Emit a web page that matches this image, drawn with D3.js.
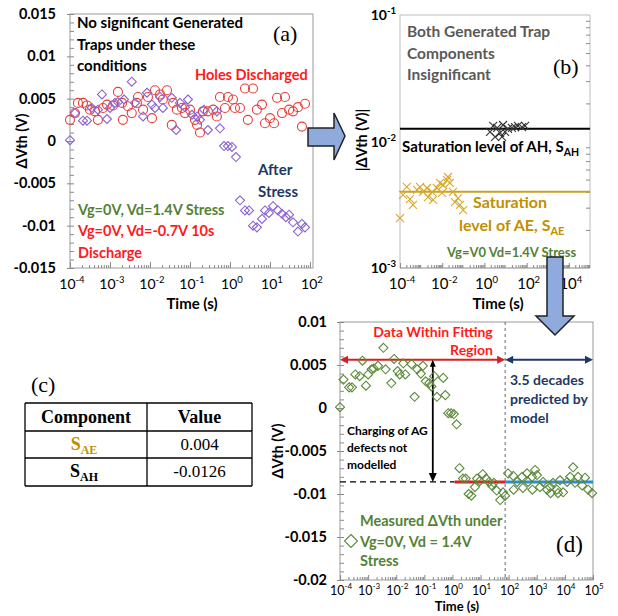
<!DOCTYPE html>
<html>
<head>
<meta charset="utf-8">
<script src="https://cdn.jsdelivr.net/npm/d3@7"></script>
<style>
  body { margin: 0; background: #fff; }
</style>
</head>
<body>
<svg id="fig" width="618" height="616"></svg>
<script>
// ---------- data ----------
// (a) holes discharged: time (s) and dVth (V)
const holesT = [1e-4,1.33e-4,1.58e-4,2.11e-4,2.66e-4,3.16e-4,4.22e-4,5.0e-4,6.7e-4,8.4e-4,1.19e-3,1.58e-3,2.0e-3,2.1e-3,2.8e-3,3.5e-3,4.7e-3,5.0e-3,6.7e-3,8.9e-3,1.12e-2,1.33e-2,1.78e-2,2.1e-2,2.66e-2,3.8e-2,3.5e-2,4.7e-2,6.3e-2,7.5e-2,0.1,0.133,0.15,0.178,0.21,0.28,0.38,0.47,0.56,0.75,0.89,1.19,1.33,1.78,2.37,2.8,3.76,4.7,6.3,7.5,10,12.6,15,20,23.7,30,37.6,50,63,75];
const holesV = [0.0025,0.0033,0.0045,0.0045,0.0042,0.0037,0.0035,0.0025,0.0039,0.0043,0.0042,0.0058,0.0045,0.0025,0.0041,0.0033,0.0045,0.0052,0.0037,0.0052,0.0027,0.006,0.0055,0.0049,0.006,0.0045,0.0019,0.0037,0.0039,0.0033,0.0037,0.0025,0.0019,0.001,0.0035,0.0035,0.0037,0.0029,0.0052,0.0039,0.0052,0.0049,0.0039,0.0039,0.0062,0.0025,0.0062,0.0037,0.0043,0.0021,0.0027,0.0021,0.0051,0.0033,0.0052,0.0037,0.0035,0.004,0.0017,0.0044];

// (a)/(d) after stress (Vg=0V, Vd=1.4V)
const stressT = [1e-4,1.33e-4,2.11e-4,2.66e-4,3.5e-4,5.0e-4,6.3e-4,8.4e-4,1e-3,1.33e-3,1.58e-3,2.24e-3,3.5e-3,4.2e-3,6.7e-3,8.4e-3,1.12e-2,1.33e-2,1.78e-2,2.1e-2,3.5e-2,4.5e-2,5.6e-2,7.5e-2,8.9e-2,0.112,0.15,0.178,0.224,0.28,0.47,0.56,0.71,0.89,1.12,1.41,1.78,2.37,2.99,3.76,4.7,6.3,7.5,9.4,11.9,15.8,20,25,30,37.6,50,63,75];
const stressV = [0.0001,0.0033,0.0024,0.0024,0.0039,0.0037,0.0055,0.0026,0.0039,0.0045,0.0046,0.0049,0.007,0.0045,0.0029,0.0057,0.0043,0.0039,0.0052,0.0039,0.0051,0.0013,0.0045,0.004,0.0049,0.0031,0.0029,0.0025,0.0037,0.0013,0.0035,0.0015,-0.0006,-0.0006,-0.0007,-0.0019,-0.007,-0.0082,-0.0082,-0.01,-0.0102,-0.0092,-0.0082,-0.0085,-0.0077,-0.0082,-0.0086,-0.009,-0.0087,-0.0096,-0.0107,-0.0098,-0.0102];

// (d) stress data beyond the fitting window
const stressLongT = [95,145,200,300,450,490,680,870,1020,1300,1670,2330,2960,3780,5230,6700,8650,12000,15400,19600,23000,29500,41000,52000,67000,93000,150,320,700,3100,5700];
const stressLongV = [-0.0076,-0.0079,-0.0086,-0.008,-0.0076,-0.0086,-0.008,-0.0072,-0.0078,-0.0092,-0.0086,-0.0095,-0.0092,-0.0087,-0.0095,-0.0084,-0.0098,-0.0086,-0.008,-0.0069,-0.0087,-0.008,-0.009,-0.0081,-0.0095,-0.0099,-0.0095,-0.0093,-0.0095,-0.0099,-0.0099];

// (b) |dVth| of the AE and AH components
const aeT = [1e-4,1.39e-4,2.1e-4,2.97e-4,4.1e-4,6.4e-4,8.9e-4,1.24e-3,1.9e-3,2.13e-3,3.3e-3,3.7e-3,5.6e-3,7.9e-3,9.8e-3,1.1e-2,1.7e-2,1.87e-2,2.3e-2,3.2e-2,4.0e-2,5.6e-2,6.9e-2,9.8e-2];
const aeV = [0.00248,0.00378,0.00437,0.00351,0.00315,0.00414,0.00437,0.00399,0.00429,0.00364,0.00399,0.00345,0.00429,0.0047,0.00392,0.00453,0.00496,0.00524,0.0047,0.00399,0.00332,0.00357,0.00315,0.00287];
const ahT = [1.84,2.6,3.2,4.0,5.5,6.8,7.6,9.5,13,20,28,39,60,84];
const ahV = [0.0119,0.0133,0.0109,0.0128,0.0117,0.0109,0.0135,0.0119,0.0126,0.0128,0.013,0.0133,0.013,0.0133];

// (c) saturation levels
const componentNames = ["AE", "AH"];
const componentValues = [0.004, -0.0126];
const componentColors = ["#bf9000", "#000000"];

// fitting window
const fitEnd = 75;          // last measured time (s)
const fitStartLine = 1.2;   // where the fitted saturation starts (s)
const fitArrowLevel = 0.0056;
const chargeArrowTime = 0.2;

// tick labels
const yTicksA = [0.015, 0.01, 0.005, 0, -0.005, -0.01, -0.015];
const yTickLabelsA = ["0.015", "0.01", "0.005", "0", "-0.005", "-0.01", "-0.015"];
const xTicksA = [1e-4, 1e-3, 1e-2, 1e-1, 1, 10, 100];
const yTicksB = [1e-3, 1e-2, 1e-1];
const xTicksB = [1e-4, 1e-2, 1, 1e2, 1e4];
const yTicksD = [0.01, 0.005, 0, -0.005, -0.01, -0.015, -0.02];
const yTickLabelsD = ["0.01", "0.005", "0", "-0.005", "-0.01", "-0.015", "-0.02"];
const xTicksD = [1e-4, 1e-3, 1e-2, 1e-1, 1, 10, 100, 1e3, 1e4, 1e5];

// ---------- helpers ----------
const SANS = "Lato, 'Open Sans', 'DejaVu Sans', sans-serif";
const SERIF = "'Liberation Serif', 'DejaVu Serif', serif";
const svg = d3.select("#fig");

function label(g, x, y, str, opt = {}) {
  return g.append("text")
    .attr("x", x).attr("y", y)
    .attr("font-family", opt.family || SANS)
    .attr("font-size", opt.size || 14)
    .attr("font-weight", opt.weight || "bold")
    .attr("fill", opt.fill || "#000")
    .attr("text-anchor", opt.anchor || "start")
    .text(str);
}
function sub(textSel, str, size, dy = 4) {
  textSel.append("tspan").attr("dy", dy).attr("font-size", size).text(str);
  return textSel;
}
function powLabel(g, x, y, v, opt = {}) {
  const e = Math.round(Math.log10(v));
  const t = label(g, x, y, "10", { size: opt.size || 14, weight: opt.weight || "normal",
    anchor: opt.anchor || "middle", fill: "#000" });
  t.append("tspan").attr("dy", -6).attr("font-size", opt.sup || 9.5).text(e);
  return t;
}
function minorLog(scale) {
  const [a, b] = scale.domain();
  const out = [];
  for (let e = Math.floor(Math.log10(a)); e <= Math.ceil(Math.log10(b)); e++)
    for (let k = 2; k <= 9; k++) { const v = k * 10 ** e; if (v > a && v < b) out.push(v); }
  return out;
}
function styleAxis(sel, color) {
  sel.select(".domain").remove();
  sel.selectAll("line").attr("stroke", color);
  return sel;
}
const diamond = r => `M0,${-r}L${r},0L0,${r}L${-r},0Z`;
const cross = r => `M${-r},${-r}L${r},${r}M${-r},${r}L${r},${-r}`;

// ---------- panel (a) ----------
const gA = svg.append("g");
const xA = d3.scaleLog().domain([1e-4, 10 ** 2.075]).range([70, 313]);
const yA = d3.scaleLinear().domain([-0.015, 0.015]).range([268, 14]);

gA.append("rect").attr("x", 70).attr("y", 14).attr("width", 243).attr("height", 254)
  .attr("fill", "none").attr("stroke", "#9a9a9a");
styleAxis(gA.append("g").attr("transform", "translate(70,0)")
  .call(d3.axisLeft(yA).tickValues(d3.range(-15, 16).map(k => k / 1000)).tickSize(-4).tickFormat("")), "#8a8a8a");
styleAxis(gA.append("g").attr("transform", "translate(70,0)")
  .call(d3.axisLeft(yA).tickValues(yTicksA).tickSize(3).tickPadding(11)
    .tickFormat((d, i) => yTickLabelsA[i])), "#8a8a8a")
  .selectAll("text").attr("font-family", SANS).attr("font-size", 14.5)
  .attr("font-weight", "bold").attr("fill", "#000");
styleAxis(gA.append("g").attr("transform", "translate(0,268)")
  .call(d3.axisBottom(xA).tickValues(minorLog(xA)).tickSize(-3).tickFormat("")), "#8a8a8a");
styleAxis(gA.append("g").attr("transform", "translate(0,268)")
  .call(d3.axisBottom(xA).tickValues(xTicksA).tickSize(-6).tickFormat("")), "#8a8a8a");
xTicksA.forEach(v => powLabel(gA, xA(v) + 2, 289, v));
label(gA, 192, 309, "Time (s)", { size: 15, anchor: "middle" });
label(gA, 0, 0, "ΔVth (V)", { size: 14.5, anchor: "middle" })
  .attr("transform", "translate(27,141) rotate(-90)");

gA.append("g").selectAll("circle").data(holesT).join("circle")
  .attr("cx", d => xA(d)).attr("cy", (d, i) => yA(holesV[i])).attr("r", 4.5)
  .attr("fill", "none").attr("stroke", "#e2403a").attr("stroke-width", 1.1);
gA.append("g").selectAll("path").data(stressT).join("path")
  .attr("transform", (d, i) => `translate(${xA(d)},${yA(stressV[i])})`)
  .attr("d", diamond(4.5)).attr("fill", "none").attr("stroke", "#8b62d1").attr("stroke-width", 1.1);

["No significant Generated", "Traps under these", "conditions"]
  .forEach((s, i) => label(gA, 77, 28 + i * 21.5, s, { size: 15 }));
label(gA, 273, 41, "(a)", { family: SERIF, size: 22, weight: "normal" });
label(gA, 195, 80, "Holes Discharged", { fill: "#ff1a1a", size: 14.5 });
label(gA, 258, 175, "After", { fill: "#1f3864", size: 15 });
label(gA, 258, 197, "Stress", { fill: "#1f3864", size: 15 });
label(gA, 78, 215, "Vg=0V, Vd=1.4V Stress", { fill: "#548235", size: 14.5 });
label(gA, 78, 236, "Vg=0V, Vd=-0.7V 10s", { fill: "#ff1a1a", size: 14.5 });
label(gA, 78, 258, "Discharge", { fill: "#ff1a1a", size: 14.5 });

// ---------- panel (b) ----------
const gB = svg.append("g");
const xB = d3.scaleLog().domain([1e-4, 1e5]).range([400, 590]);
const yB = d3.scaleLog().domain([1e-3, 1e-1]).range([268, 15]);

gB.append("path").attr("d", "M400,268V15H590V268").attr("fill", "none").attr("stroke", "#bdbdbd");
styleAxis(gB.append("g").attr("transform", "translate(590,0)")
  .call(d3.axisRight(yB).tickValues(minorLog(yB)).tickSize(-4).tickFormat("")), "#8a8a8a");
styleAxis(gB.append("g").attr("transform", "translate(0,268)")
  .call(d3.axisBottom(xB).tickValues(minorLog(xB)).tickSize(-3).tickFormat("")), "#8a8a8a");
styleAxis(gB.append("g").attr("transform", "translate(0,268)")
  .call(d3.axisBottom(xB).tickValues(xTicksB).tickSize(-5).tickFormat("")), "#8a8a8a");
gB.append("line").attr("x1", 400).attr("x2", 590).attr("y1", 268).attr("y2", 268).attr("stroke", "#8a8a8a");
yTicksB.forEach(v => powLabel(gB, 396, yB(v) + 5, v, { anchor: "end", weight: "bold" }));
xTicksB.forEach(v => powLabel(gB, xB(v) + 2, 289, v, { size: 15 }));
label(gB, 498, 309, "Time (s)", { size: 15, anchor: "middle" });
label(gB, 0, 0, "|ΔVth (V)|", { size: 14.5, anchor: "middle" })
  .attr("transform", "translate(367,140) rotate(-90)");

gB.append("line").attr("x1", 400).attr("x2", 590)
  .attr("y1", yB(Math.abs(componentValues[1]))).attr("y2", yB(Math.abs(componentValues[1])))
  .attr("stroke", "#000").attr("stroke-width", 2);
gB.append("line").attr("x1", 400).attr("x2", 590)
  .attr("y1", yB(componentValues[0])).attr("y2", yB(componentValues[0]))
  .attr("stroke", "#c9a227").attr("stroke-width", 2);
gB.append("g").selectAll("path").data(aeT).join("path")
  .attr("transform", (d, i) => `translate(${xB(d)},${yB(aeV[i])})`)
  .attr("d", cross(4)).attr("stroke", "#d9a829").attr("stroke-width", 1.1);
gB.append("g").selectAll("path").data(ahT).join("path")
  .attr("transform", (d, i) => `translate(${xB(d)},${yB(ahV[i])})`)
  .attr("d", cross(4)).attr("stroke", "#333").attr("stroke-width", 1.1);

["Both Generated Trap", "Components", "Insignificant"]
  .forEach((s, i) => label(gB, 407, 37 + i * 21.5, s, { fill: "#595959", size: 15.5 }));
label(gB, 553, 74, "(b)", { family: SERIF, size: 22, weight: "normal" });
sub(label(gB, 402, 152, "Saturation level of AH, S", { size: 15 }), "AH", 10.5);
label(gB, 473, 208, "Saturation", { fill: "#bf9000", size: 16 });
sub(label(gB, 459, 231, "level of AE, S", { fill: "#bf9000", size: 16 }), "AE", 11);
label(gB, 447, 257, "Vg=V0 Vd=1.4V Stress", { fill: "#548235", size: 13 });

// ---------- table (c) ----------
const gC = svg.append("g");
label(gC, 31, 392, "(c)", { family: SERIF, size: 22, weight: "normal" });
const tl = 25, tr = 252, tc = 147, rows = [403, 431, 458, 486];
rows.forEach(y => gC.append("line").attr("x1", tl).attr("x2", tr).attr("y1", y).attr("y2", y)
  .attr("stroke", "#000").attr("stroke-width", 1.3));
[tl, tc, tr].forEach(x => gC.append("line").attr("x1", x).attr("x2", x).attr("y1", rows[0]).attr("y2", rows[3])
  .attr("stroke", "#000").attr("stroke-width", 1.3));
label(gC, (tl + tc) / 2, 423, "Component", { family: SERIF, size: 18, anchor: "middle" });
label(gC, (tc + tr) / 2, 423, "Value", { family: SERIF, size: 18, anchor: "middle" });
componentNames.forEach((n, i) => {
  const y = rows[i + 1] + 19;
  sub(label(gC, (tl + tc) / 2 - 2, y, "S", { family: SERIF, size: 18, anchor: "middle", fill: componentColors[i] }),
    n, 12, 4);
  label(gC, (tc + tr) / 2, y, String(componentValues[i]), { family: SERIF, size: 17, weight: "normal", anchor: "middle" });
});

// ---------- panel (d) ----------
const gD = svg.append("g");
const xD = d3.scaleLog().domain([1e-4, 1e5]).range([340, 593]);
const yD = d3.scaleLinear().domain([-0.02, 0.01]).range([580, 322]);

gD.append("rect").attr("x", 340).attr("y", 322).attr("width", 253).attr("height", 258)
  .attr("fill", "none").attr("stroke", "#9a9a9a");
styleAxis(gD.append("g").attr("transform", "translate(340,0)")
  .call(d3.axisLeft(yD).tickValues(d3.range(-20, 11).map(k => k / 1000)).tickSize(-4).tickFormat("")), "#8a8a8a");
styleAxis(gD.append("g").attr("transform", "translate(340,0)")
  .call(d3.axisLeft(yD).tickValues(yTicksD).tickSize(3).tickPadding(10)
    .tickFormat((d, i) => yTickLabelsD[i])), "#8a8a8a")
  .selectAll("text").attr("font-family", SANS).attr("font-size", 14.5)
  .attr("font-weight", "bold").attr("fill", "#000");
styleAxis(gD.append("g").attr("transform", "translate(0,580)")
  .call(d3.axisBottom(xD).tickValues(minorLog(xD)).tickSize(-3).tickFormat("")), "#8a8a8a");
styleAxis(gD.append("g").attr("transform", "translate(0,580)")
  .call(d3.axisBottom(xD).tickValues(xTicksD).tickSize(-5).tickFormat("")), "#8a8a8a");
xTicksD.forEach(v => powLabel(gD, xD(v) + 1, 595, v, { size: 12.5, sup: 8 }));
label(gD, 457, 611, "Time (s)", { size: 13, anchor: "middle" });
label(gD, 0, 0, "ΔVth (V)", { size: 14.5, anchor: "middle" })
  .attr("transform", "translate(283,451) rotate(-90)");

// fitting window markers
gD.append("line").attr("x1", xD(fitEnd)).attr("x2", xD(fitEnd)).attr("y1", 322).attr("y2", 580)
  .attr("stroke", "#666").attr("stroke-dasharray", "3,3");
const sat = componentValues[0] + componentValues[1];
gD.append("line").attr("x1", xD(1e-4)).attr("x2", xD(fitStartLine)).attr("y1", yD(sat)).attr("y2", yD(sat))
  .attr("stroke", "#000").attr("stroke-width", 1.2).attr("stroke-dasharray", "6,4");
gD.append("line").attr("x1", xD(fitStartLine)).attr("x2", xD(fitEnd)).attr("y1", yD(sat)).attr("y2", yD(sat))
  .attr("stroke", "#e02020").attr("stroke-width", 3);
gD.append("line").attr("x1", xD(fitEnd)).attr("x2", xD(1e5)).attr("y1", yD(sat)).attr("y2", yD(sat))
  .attr("stroke", "#2e8bd6").attr("stroke-width", 3);

function hArrow(g, x1, x2, y, color) {
  g.append("line").attr("x1", x1 + 6).attr("x2", x2 - 6).attr("y1", y).attr("y2", y)
    .attr("stroke", color).attr("stroke-width", 2);
  g.append("path").attr("d", `M${x1},${y}l8,-4v8Z M${x2},${y}l-8,-4v8Z`).attr("fill", color);
}
hArrow(gD, xD(1e-4), xD(fitEnd), yD(fitArrowLevel), "#d42020");
hArrow(gD, xD(fitEnd), xD(1e5), yD(fitArrowLevel), "#1f3864");
const ax = xD(chargeArrowTime), ay1 = yD(fitArrowLevel), ay2 = yD(sat);
gD.append("line").attr("x1", ax).attr("x2", ax).attr("y1", ay1 + 3).attr("y2", ay2 - 7)
  .attr("stroke", "#000").attr("stroke-width", 1.8);
gD.append("path").attr("d", `M${ax},${ay1}l-3,7h6Z M${ax},${ay2}l-4,-9h8Z`).attr("fill", "#000");

gD.append("g").selectAll("path").data(stressT.concat(stressLongT)).join("path")
  .attr("transform", (d, i) => `translate(${xD(d)},${yD(stressV.concat(stressLongV)[i])})`)
  .attr("d", diamond(4.5)).attr("fill", "none").attr("stroke", "#5b8a3a").attr("stroke-width", 1.1);

label(gD, 433, 337, "Data Within Fitting", { fill: "#ff1a1a", size: 14, anchor: "middle" });
label(gD, 493, 355, "Region", { fill: "#ff1a1a", size: 14, anchor: "end" });
["3.5 decades", "predicted by", "model"].forEach((s, i) =>
  label(gD, 510, 385 + i * 19, s, { fill: "#1f3864", size: 14 }));
["Charging of AG", "defects not", "modelled"].forEach((s, i) =>
  label(gD, 347, 435 + i * 17, s, { size: 12 }));
label(gD, 360, 526, "Measured ΔVth under", { fill: "#548235", size: 14.5 });
label(gD, 360, 547, "Vg=0V, Vd = 1.4V", { fill: "#548235", size: 14.5 });
label(gD, 360, 566, "Stress", { fill: "#548235", size: 14.5 });
gD.append("path").attr("transform", "translate(351,541)").attr("d", diamond(6.5))
  .attr("fill", "none").attr("stroke", "#5b8a3a").attr("stroke-width", 1.1);
label(gD, 556, 552, "(d)", { family: SERIF, size: 23, weight: "normal" });

// ---------- connecting block arrows ----------
const arrowFill = "#8faadc";
svg.append("path")
  .attr("d", "M308,128H334V113L345,136L334,160V146H308Z")
  .attr("fill", arrowFill).attr("stroke", "#222").attr("stroke-width", 1.5);
svg.append("path")
  .attr("d", "M547,257H563V316H574L555,335L536,316H547Z")
  .attr("fill", arrowFill).attr("stroke", "#222").attr("stroke-width", 1.5);
</script>
</body>
</html>
